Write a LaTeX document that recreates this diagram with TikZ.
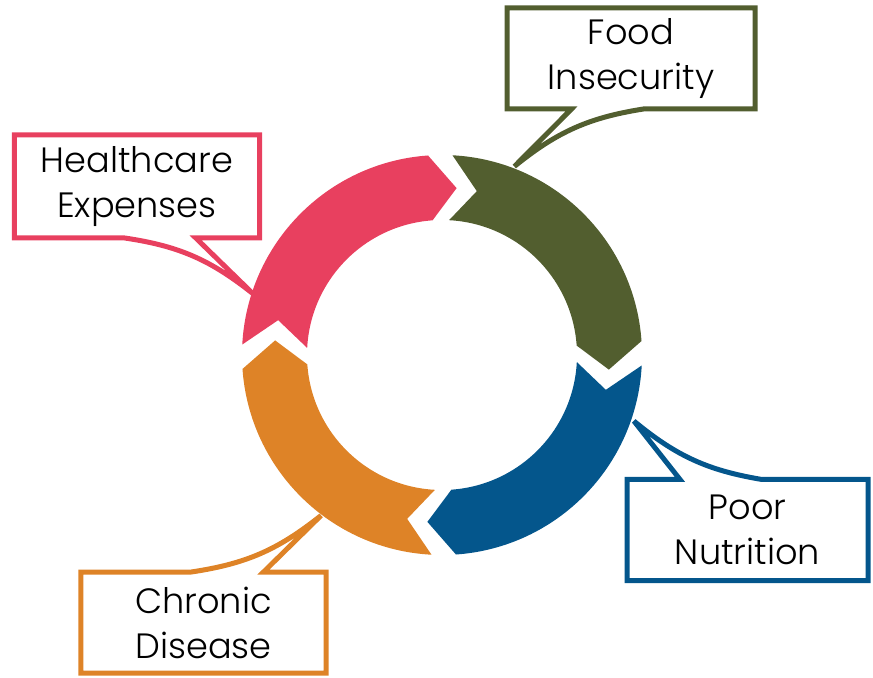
\documentclass[tikz,border=0pt]{standalone}
\usepackage{fontspec}
\setmainfont{Poppins}[UprightFont=* Light]
\usepackage{tikz}
\usetikzlibrary{calc}
\definecolor{foodgreen}{RGB}{82,94,47}
\definecolor{nutriblue}{RGB}{4,86,140}
\definecolor{chronorange}{RGB}{222,131,39}
\definecolor{carepink}{RGB}{232,64,95}
\newcommand{\ringout}{200}
\newcommand{\ringin}{135}
\newcommand{\ringmid}{167.5}
\newcommand{\ringarrow}[2]{
  % one arrow of the ring, running clockwise
  % parameter 1: fill colour
  % parameter 2: angle of the notched tail
  \fill[#1] (#2:\ringout) arc[start angle=#2, end angle=#2-83, radius=\ringout]
    -- (#2-92:\ringmid) -- (#2-83:\ringin)
    arc[start angle=#2-83, end angle=#2, radius=\ringin]
    -- (#2-9:\ringmid) -- cycle;
}

\begin{document}
\begin{tikzpicture}[x=0.2mm,y=0.2mm,
    callbox/.style={minimum width=49mm, minimum height=20.2mm, inner sep=0pt,
      outer sep=0pt, align=center, font=\fontsize{20}{25.6}\selectfont},
    callout/.style={line width=1mm, line join=miter, miter limit=3}]
  \useasboundingbox (-442,-323) rectangle (431,355);
  % the four labels
  \node[callbox, minimum width=49.6mm] (food) at (189,296.5) {Food\\Insecurity};
  \node[callbox, minimum height=20.6mm] (care) at (-305,168.5) {Healthcare\\Expenses};
  \node[callbox, minimum width=48.2mm] (poor) at (305.5,-175) {Poor\\Nutrition};
  \node[callbox] (chron) at (-238.5,-267.5) {Chronic\\Disease};
  % where the callouts touch the ring
  \coordinate (foodtip) at (69:202);
  \coordinate (caretip) at (162:199);
  \coordinate (poortip) at (-19:203);
  \coordinate (chrontip) at (-127:201);
  % callout outlines
  \draw[callout, draw=foodgreen] ($(food.south west)!.26!(food.south east)$)
    -- (food.south west) |- (food.north east) -- (food.south east)
    -- ($(food.south west)!.55!(food.south east)$) to[bend right=15] (foodtip) -- cycle;
  \draw[callout, draw=carepink] (care.south west) |- (care.north east) -- (care.south east)
    -- ($(care.south west)!.74!(care.south east)$) -- (caretip)
    to[bend right=15] ($(care.south west)!.45!(care.south east)$) -- cycle;
  \draw[callout, draw=nutriblue] (poor.north west) |- (poor.south east) -- (poor.north east)
    -- ($(poor.north west)!.56!(poor.north east)$) to[bend left=15] (poortip)
    -- ($(poor.north west)!.22!(poor.north east)$) -- cycle;
  \draw[callout, draw=chronorange] (chron.north west) |- (chron.south east) -- (chron.north east)
    -- ($(chron.north west)!.745!(chron.north east)$) -- (chrontip)
    to[bend left=15] ($(chron.north west)!.45!(chron.north east)$) -- cycle;
  % the ring
  \foreach \c/\t in {foodgreen/87, nutriblue/-3, chronorange/-93, carepink/177} {
    \ringarrow{\c}{\t}
  }
\end{tikzpicture}
\end{document}
